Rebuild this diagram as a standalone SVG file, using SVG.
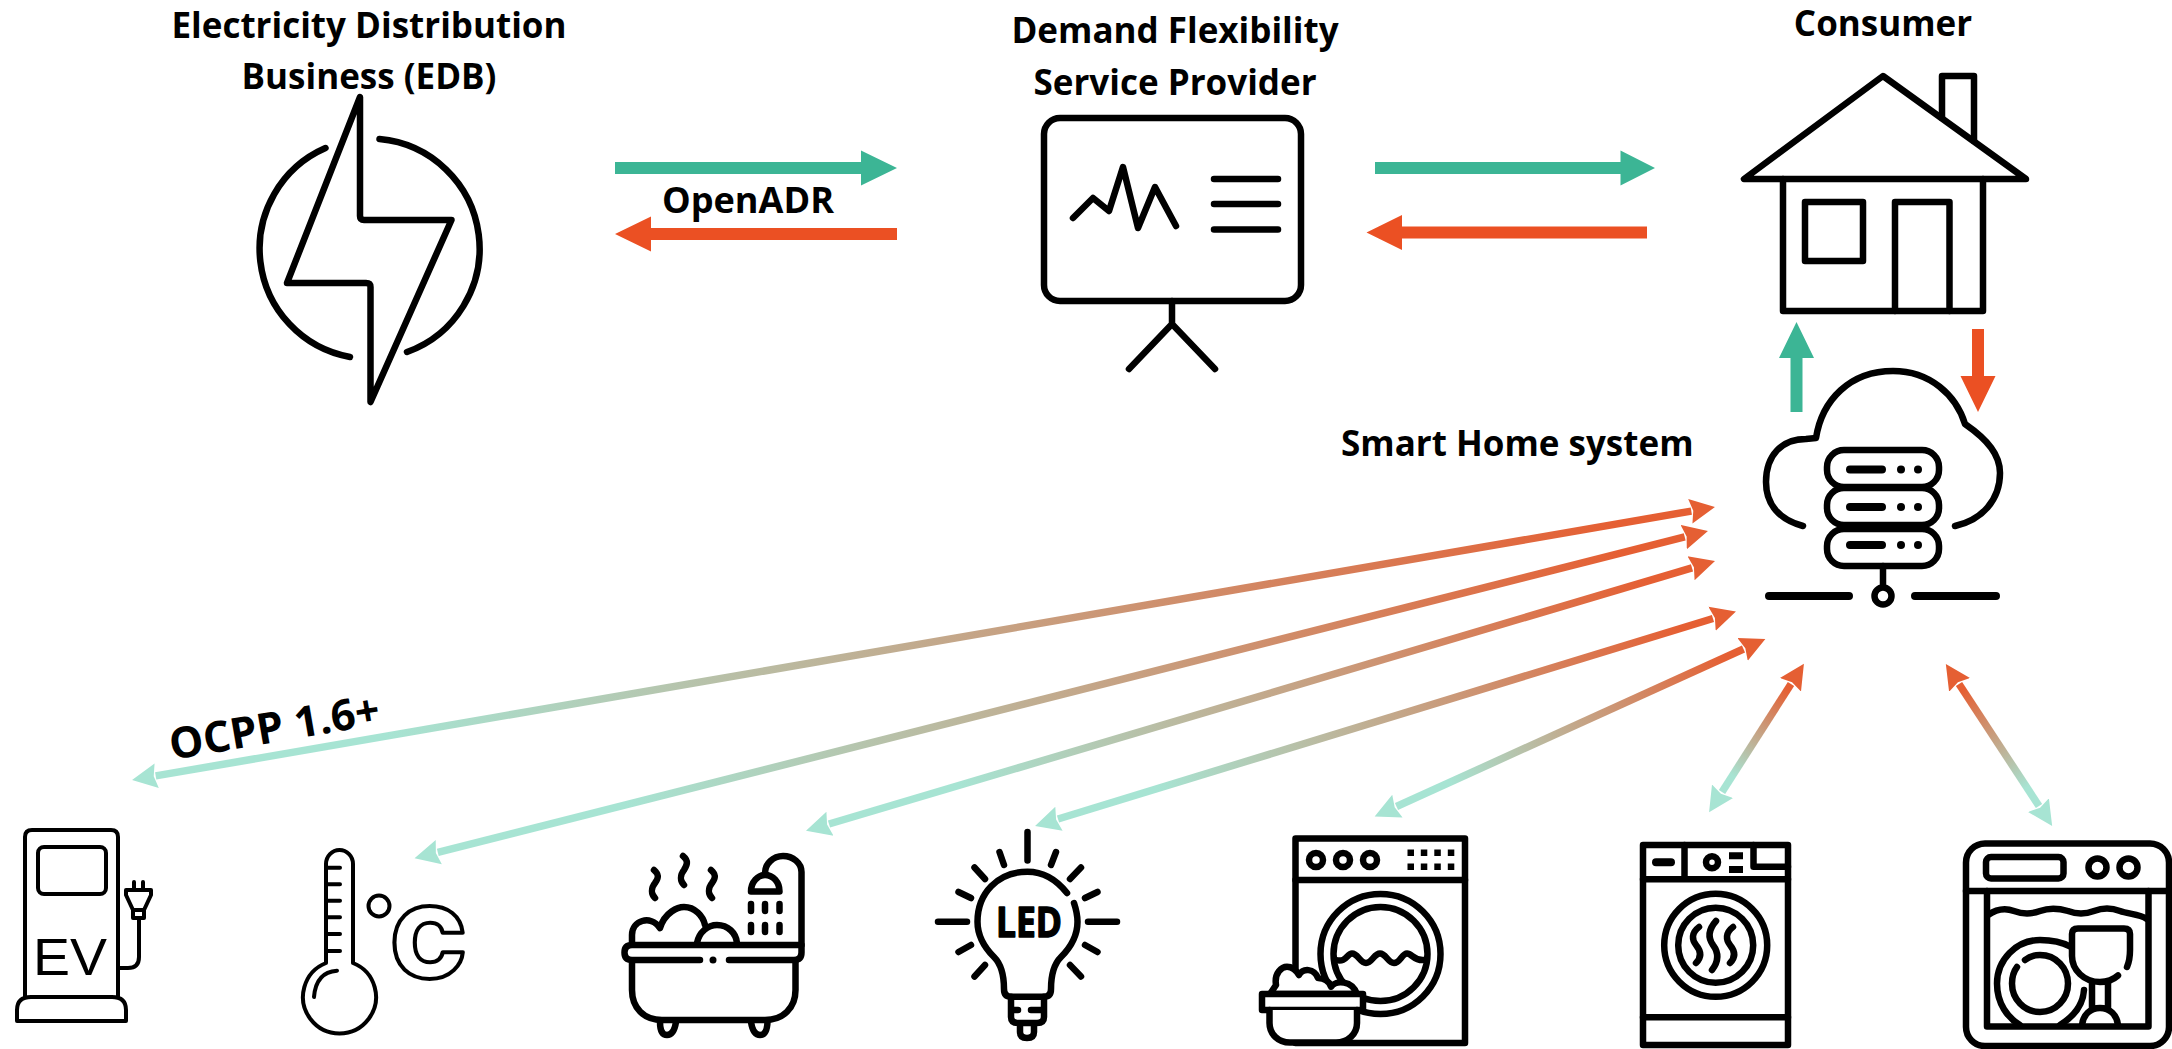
<svg xmlns="http://www.w3.org/2000/svg" width="2172" height="1049" viewBox="0 0 2172 1049">
<style>
text{font-family:"Open Sans","Liberation Sans",sans-serif;font-weight:700;font-size:35px;fill:#000}
.m{text-anchor:middle}
.s{fill:none;stroke:#000;stroke-width:6.5;stroke-linecap:round;stroke-linejoin:round}
.t{stroke-width:4}
.w{fill:#fff}
.f{fill:#000;stroke:none}
.bar{stroke-width:8}
.g{fill:#3cb595}
.o{fill:#eb5023}
.d{fill:none;stroke-width:7.5}
</style>
<defs>
<marker id="mS" markerUnits="userSpaceOnUse" markerWidth="28" markerHeight="28" refX="1" refY="14" orient="auto-start-reverse"><path d="M0,1.500 L25,14 L0,26.500 L3,14Z" fill="#a7e4d3"/></marker>
<marker id="mE" markerUnits="userSpaceOnUse" markerWidth="28" markerHeight="28" refX="1" refY="14" orient="auto"><path d="M0,1.500 L25,14 L0,26.500 L3,14Z" fill="#e55f33"/></marker>
<linearGradient id="gr"><stop offset="0.15" stop-color="#a7e4d3"/><stop offset="0.95" stop-color="#e55f33"/></linearGradient>
<linearGradient id="gA" href="#gr" gradientUnits="userSpaceOnUse" x1="156" y1="776" x2="1691" y2="511"/>
<linearGradient id="gB" href="#gr" gradientUnits="userSpaceOnUse" x1="438" y1="852" x2="1685" y2="537"/>
<linearGradient id="gC" href="#gr" gradientUnits="userSpaceOnUse" x1="829" y1="824" x2="1692" y2="568"/>
<linearGradient id="gD" href="#gr" gradientUnits="userSpaceOnUse" x1="1058" y1="819" x2="1713" y2="618"/>
<linearGradient id="gE" href="#gr" gradientUnits="userSpaceOnUse" x1="1396" y1="805" x2="1743" y2="649"/>
<linearGradient id="gF" href="#gr" gradientUnits="userSpaceOnUse" x1="1722" y1="792" x2="1791" y2="684"/>
<linearGradient id="gG" href="#gr" gradientUnits="userSpaceOnUse" x1="2039" y1="806" x2="1959" y2="684"/>
</defs>

<g id="connectors">
<path class="g" d="M615,162H861V150.500L897,168L861,185.500V174H615Z"/>
<path class="o" d="M897,228H651V216.500L615,234L651,251.500V240H897Z"/>
<text x="662" y="213" textLength="172" lengthAdjust="spacingAndGlyphs">OpenADR</text>
<path class="g" d="M1375,162H1620.500V150.500L1655,168L1620.500,185.500V174H1375Z"/>
<path class="o" d="M1647,226.500H1402V215L1366.500,232.500L1402,250V238.500H1647Z"/>
<path class="g" d="M1790.500,412V358H1779L1796.500,322L1814,358H1802.500V412Z"/>
<path class="o" d="M1972,329V376H1960.500L1978,412L1995.500,376H1984V329Z"/>
<line class="d" stroke="url(#gA)" x1="155.700" y1="775.900" x2="1691.300" y2="511.100" marker-start="url(#mS)" marker-end="url(#mE)"/>
<line class="d" stroke="url(#gB)" x1="437.800" y1="852.400" x2="1684.700" y2="536.900" marker-start="url(#mS)" marker-end="url(#mE)"/>
<line class="d" stroke="url(#gC)" x1="829" y1="824" x2="1692" y2="567.900" marker-start="url(#mS)" marker-end="url(#mE)"/>
<line class="d" stroke="url(#gD)" x1="1058" y1="819" x2="1713" y2="618.500" marker-start="url(#mS)" marker-end="url(#mE)"/>
<line class="d" stroke="url(#gE)" x1="1396.500" y1="806.500" x2="1743.500" y2="649" marker-start="url(#mS)" marker-end="url(#mE)"/>
<line class="d" stroke="url(#gF)" x1="1722" y1="792" x2="1791" y2="684" marker-start="url(#mS)" marker-end="url(#mE)"/>
<line class="d" stroke="url(#gG)" x1="2039" y1="806" x2="1959" y2="684" marker-start="url(#mS)" marker-end="url(#mE)"/>
<text transform="translate(172,760) rotate(-9.800)" style="font-size:43px">OCPP 1.6+</text>
</g>

<g id="edb">
<text class="m" x="369" y="38">Electricity Distribution</text>
<text class="m" x="369" y="89">Business (EDB)</text>
<path class="s" d="M360,97V216Q360,220 364,220H451.500L370.500,402V287Q370.500,283 366,283H287Z"/>
<path class="s" d="M379.500,139A110,110 0 0 1 407,352"/>
<path class="s" d="M325.500,148A110,110 0 0 0 350,357"/>
</g>

<g id="provider">
<text class="m" x="1175" y="43">Demand Flexibility</text>
<text class="m" x="1175" y="95">Service Provider</text>
<rect class="s" x="1044" y="118" width="257" height="183" rx="16"/>
<path class="s" d="M1172,301V324M1129,369L1172,324L1215,369"/>
<path class="s" d="M1073,218L1093,198L1109,211L1123,167L1138,228L1155,187L1176,226"/>
<path class="s" d="M1214,179H1278M1214,204H1278M1214,229.500H1278"/>
</g>

<g id="consumer">
<text class="m" x="1883" y="36">Consumer</text>
<path class="s" d="M1942,118V76H1974V141"/>
<path class="s" d="M1883,76L1744,179H2026Z"/>
<path class="s" d="M1783,179V311H1983V179"/>
<rect class="s" x="1805" y="202" width="58" height="59"/>
<path class="s" d="M1895,311V202H1949.500V311"/>
</g>

<g id="smart-home">
<text x="1341" y="456">Smart Home system</text>
<path class="s" d="M1803,526C1780,520 1766,505 1766,482C1766,455 1782,439 1806,439L1816,438C1822,400 1850,371 1893,371C1930,371 1956,395 1965,424C1988,440 2000,455 2000,473C2000,500 1982,520 1955,526"/>
<rect class="s" x="1827" y="450" width="112" height="37" rx="17"/>
<rect class="s" x="1827" y="488" width="112" height="37" rx="17"/>
<rect class="s" x="1827" y="529" width="112" height="37" rx="17"/>
<path class="s bar" d="M1850,469.500H1882M1850,507H1882M1850,545H1882"/>
<circle class="f" cx="1901" cy="469.500" r="4"/><circle class="f" cx="1918" cy="469.500" r="4"/>
<circle class="f" cx="1901" cy="507" r="4"/><circle class="f" cx="1918" cy="507" r="4"/>
<circle class="f" cx="1901" cy="545" r="4"/><circle class="f" cx="1918" cy="545" r="4"/>
<path class="s" d="M1883,566V586"/>
<circle class="s" cx="1883" cy="596" r="8.500"/>
<path class="s bar" d="M1769,596H1849M1915,596H1996"/>
</g>

<g id="ev">
<path class="s t" d="M25,997V837Q25,830 32,830H111Q118,830 118,837V997"/>
<path class="s t" d="M17,1021V1010Q17,997 31,997H112Q126,997 126,1010V1021Z"/>
<rect class="s t" x="38" y="847" width="68" height="47" rx="6"/>
<text x="33" y="975" textLength="74" lengthAdjust="spacingAndGlyphs" style="font-family:'Liberation Sans',sans-serif;font-weight:400;font-size:52px">EV</text>
<path class="s t" d="M118,968H128Q139,968 139,957V918M134,882V890M143,882V890M126,890H151V895L144,910H133L126,895ZM133,910V918H144V910"/>
</g>

<g id="thermostat">
<path class="s t" d="M326,963V864A13.500,14 0 0 1 353,864V963A36.500,36.500 0 1 1 326,963Z"/>
<path class="s t" d="M326,867.700H340M326,884.300H340M326,900.700H340M326,917.300H340M326,934H340M326,951H340"/>
<path class="s t" d="M337,970.700Q316,972 314,997"/>
<circle class="s t" cx="379" cy="906" r="10.500"/>
<text x="391" y="978" textLength="75" lengthAdjust="spacingAndGlyphs" style="font-family:Inter,'Liberation Sans',sans-serif;font-weight:900;font-size:97px;fill:#fff;stroke:#000;stroke-width:4;stroke-linejoin:round">C</text>
</g>

<g id="bath">
<path class="s" d="M700,960H632Q624.500,960 624.500,952.500Q624.500,945 632,945H801.500V952.500Q801.500,960 794,960H729"/>
<circle class="f" cx="713" cy="960" r="3.500"/>
<path class="s" d="M632,962V990C632,1008 644,1020 662,1020H765C783,1020 795.500,1008 795.500,990V962"/>
<path class="s" d="M660,1022Q660,1035 667,1035Q674,1035 676,1022M751,1022Q753,1035 760,1035Q767,1035 767.500,1022"/>
<path class="s" d="M632,943V935C632,921 650,914 660,928C665,912 678,907 684,907C695,907 703,916 705,925"/>
<path class="s" d="M697,943C699,932 708,925 717,925C728,925 736,933 737,943"/>
<path class="s" d="M801.500,945V872C801.500,863 793,856 783,856C773,856 765,864 765,873"/>
<path class="s" d="M751,891.500C751,882 758,875 765,875C773,875 779.500,882 779.500,891.500Z"/>
<path class="s" d="M751,904V911M765,904V911M779.500,904V911M751,925V932M765,925V932M779.500,925V932"/>
<path class="s" d="M654,870C660,875 658,879 655,883C651,888 651,894 655,898M683,856C689,861 687,865 684,870C680,875 680,881 684,885M711,870C717,875 715,879 712,883C708,888 708,894 712,898"/>
</g>

<g id="led">
<path class="s" d="M1067,893C1056,879 1042,871.700 1027.500,871.700C998,871.700 977.500,893 977.500,921.700C977.500,936 984,947 994,957C1002,965 1004,976 1004,989Q1004,996.700 1011,996.700H1044Q1051,996.700 1051,989C1051,976 1053,965 1061,957C1071,947 1077.500,936 1077.500,921.700C1077.500,915 1076,909 1074,903"/>
<path class="s" d="M1027.500,832V860.500M999.500,852L1004,865M1056,852L1051,865M974.500,867.500L985,879M1081,867.500L1070,879M958.500,892L971,898M1097.500,892L1085,898M938,921.700H967M1088,921.700H1117M958.500,952L971,945M1097.500,952L1085,945M974.500,976.500L985,965M1081,976.500L1070,965"/>
<text x="996" y="937" textLength="66" lengthAdjust="spacingAndGlyphs" style="font-size:42px;stroke:#000;stroke-width:1.500;stroke-linejoin:round">LED</text>
<path class="s" d="M1011,996.700V1017Q1011,1023 1018,1023H1037Q1044,1023 1044,1017V996.700M1012,1010H1018M1031,1010H1044M1020,1024V1032Q1020,1038 1027,1038Q1034,1038 1034,1032V1024"/>
</g>

<g id="washer">
<rect class="s" x="1295.500" y="838.500" width="169.500" height="204.500"/>
<path class="s" d="M1295.500,880H1465"/>
<circle class="s" cx="1316" cy="860" r="7"/><circle class="s" cx="1343" cy="860" r="7"/><circle class="s" cx="1370" cy="860" r="7"/>
<path class="f" d="M1407.500,849.500h6.500v6.500h-6.500zM1420.800,849.500h6.500v6.500h-6.500zM1434.300,849.500h6.500v6.500h-6.500zM1447.800,849.500h6.500v6.500h-6.500zM1407.500,863.500h6.500v6.500h-6.500zM1420.800,863.500h6.500v6.500h-6.500zM1434.300,863.500h6.500v6.500h-6.500zM1447.800,863.500h6.500v6.500h-6.500z"/>
<circle class="s" cx="1380.500" cy="954" r="60"/>
<circle class="s" cx="1380.500" cy="954" r="47"/>
<path class="s" d="M1336,960C1346,963 1347,953.500 1352,953.500C1358,953.500 1360,963 1366,963C1372,963 1374,953.500 1380,953.500C1386,953.500 1388,963 1394,963C1400,963 1402,953.500 1407,953.500C1412,953.500 1414,961 1424,960"/>
<path class="s w" d="M1270,994L1276,985C1274,973 1282,966.700 1287,966.700C1292,966.700 1296,970 1299,975C1303,968 1314,968 1318,978C1324,978 1329,981 1331,986.700C1336,980 1352,980 1357,994Z"/>
<rect class="s w" x="1262" y="994" width="101" height="16"/>
<path class="s w" d="M1269.500,1010V1023C1269.500,1034 1278,1042.500 1290,1042.500H1336C1348,1042.500 1357,1034 1357,1023V1010"/>
</g>

<g id="dryer">
<rect class="s" x="1643" y="845" width="145" height="200"/>
<path class="s" d="M1643,879.300H1788M1643,1017.300H1788M1684.500,845V879.300M1753.500,845V866.700H1788"/>
<path class="s bar" d="M1656,862.300H1671"/>
<circle class="s" cx="1712" cy="862.300" r="6"/>
<path class="f" d="M1729,852.300h14v7h-14zM1729,866h14v7h-14z"/>
<circle class="s" cx="1715.700" cy="945.300" r="51.500"/>
<circle class="s" cx="1715.700" cy="945.300" r="37.500"/>
<path class="s" d="M1699,927C1691,933 1692,940 1696,945C1701,951 1702,957 1696,963M1716,921C1708,930 1708,938 1713,945C1719,953 1719,961 1712,970M1733,927C1725,933 1726,940 1730,945C1735,951 1736,957 1730,963"/>
</g>

<g id="dishwasher">
<rect class="s" x="1966" y="843.500" width="203" height="202.500" rx="19"/>
<path class="s" d="M1966,891H2169"/>
<rect class="s" x="1986" y="857" width="77.500" height="21.500" rx="5"/>
<circle class="s" cx="2097.500" cy="867.500" r="9"/><circle class="s" cx="2128.500" cy="867.500" r="9"/>
<path class="s" d="M1987,891V1026.500H2148.500V891"/>
<path class="s" d="M1988,915C1998,908 2006,908 2014,911C2022,914 2032,914 2040,911C2048,908 2058,908 2068,911C2076,914 2086,914 2094,911C2102,908 2112,908 2120,911C2128,914 2140,914 2147,919"/>
<path class="s" d="M2070,946.500C2060,941 2050,940 2040,940C2016,940 1997,960 1997,983.500C1997,1004 2008,1018 2020,1025"/>
<path class="s" d="M2084,990C2083,1005 2073,1017 2060,1025"/>
<path class="s" d="M2025,960C2030,956 2035,955 2040,955C2056,955 2068,968 2068,983.500C2068,999 2056,1012 2040,1012C2024,1012 2012,999 2012,983.500C2012,977 2014,971 2017,967"/>
<path class="s" d="M2118,975.500C2113,980 2107,982 2100,982C2084,982 2072,970 2072,956V934Q2072,928.500 2078,928.500H2124Q2130,928.500 2130,934V950Q2130,960 2127,967"/>
<path class="s" d="M2092,982V1008M2108,982V1008M2082,1025C2083,1015 2090,1008 2100,1008C2110,1008 2117,1015 2118,1025"/>
</g>
</svg>
